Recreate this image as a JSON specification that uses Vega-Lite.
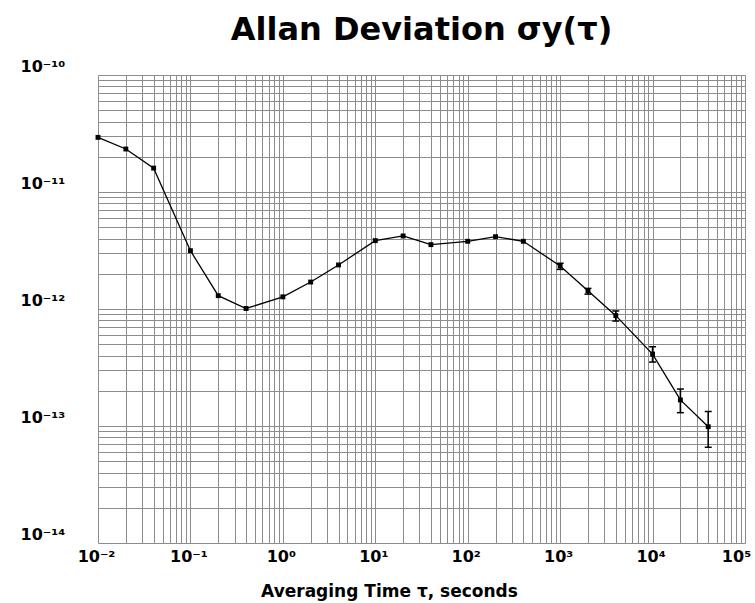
{
  "$schema": "https://vega.github.io/schema/vega-lite/v6.json",
  "width": 647,
  "height": 468,
  "autosize": {"type": "none"},
  "padding": {"left": 98, "top": 75, "right": 10, "bottom": 60},
  "background": "white",
  "title": {
    "text": "Allan Deviation σy(τ)",
    "font": "DejaVu Sans",
    "fontSize": 32,
    "fontWeight": "bold",
    "color": "black",
    "anchor": "middle",
    "offset": 11
  },
  "data": {
    "values": [
      {"tau": 0.01, "adev": 2.93e-11},
      {"tau": 0.02, "adev": 2.33e-11},
      {"tau": 0.04, "adev": 1.6e-11},
      {"tau": 0.1, "adev": 3.15e-12},
      {"tau": 0.2, "adev": 1.3e-12},
      {"tau": 0.4, "adev": 1.01e-12},
      {"tau": 1, "adev": 1.27e-12},
      {"tau": 2, "adev": 1.7e-12},
      {"tau": 4, "adev": 2.38e-12},
      {"tau": 10, "adev": 3.84e-12},
      {"tau": 20, "adev": 4.21e-12},
      {"tau": 40, "adev": 3.55e-12},
      {"tau": 100, "adev": 3.79e-12},
      {"tau": 200, "adev": 4.15e-12},
      {"tau": 400, "adev": 3.79e-12},
      {"tau": 1000, "adev": 2.33e-12, "lo": 2.18e-12, "hi": 2.46e-12},
      {"tau": 2000, "adev": 1.43e-12, "lo": 1.34e-12, "hi": 1.5e-12},
      {"tau": 4000, "adev": 8.77e-13, "lo": 7.89e-13, "hi": 9.62e-13},
      {"tau": 10000, "adev": 4.12e-13, "lo": 3.52e-13, "hi": 4.76e-13},
      {"tau": 20000, "adev": 1.67e-13, "lo": 1.3e-13, "hi": 2.07e-13},
      {"tau": 40000, "adev": 9.86e-14, "lo": 6.58e-14, "hi": 1.33e-13}
    ]
  },
  "encoding": {
    "x": {
      "field": "tau",
      "type": "quantitative",
      "scale": {"type": "log", "domain": [0.01, 100000], "nice": false},
      "axis": {
        "title": "Averaging Time τ, seconds",
        "titleX": 291,
        "titlePadding": 19,
        "values": [0.01,0.02,0.03,0.04,0.05,0.06,0.07,0.08,0.09,0.1,0.2,0.3,0.4,0.5,0.6,0.7,0.8,0.9,1,2,3,4,5,6,7,8,9,10,20,30,40,50,60,70,80,90,100,200,300,400,500,600,700,800,900,1000,2000,3000,4000,5000,6000,7000,8000,9000,10000,20000,30000,40000,50000,60000,70000,80000,90000,100000],
        "labelExpr": "datum.value==0.01?'10⁻²':datum.value==0.1?'10⁻¹':datum.value==1?'10⁰':datum.value==10?'10¹':datum.value==100?'10²':datum.value==1000?'10³':datum.value==10000?'10⁴':datum.value==100000?'10⁵':''",
        "labelPadding": 5,
        "labelOffset": {"condition": {"test": "datum.value == 100000", "value": -9}, "value": -2}
      }
    },
    "y": {
      "field": "adev",
      "type": "quantitative",
      "scale": {"type": "log", "domain": [1e-14, 1e-10], "nice": false},
      "axis": {
        "title": null,
        "values": [1e-14,2e-14,3e-14,4e-14,5e-14,6e-14,7e-14,8e-14,9e-14,1e-13,2e-13,3e-13,4e-13,5e-13,6e-13,7e-13,8e-13,9e-13,1e-12,2e-12,3e-12,4e-12,5e-12,6e-12,7e-12,8e-12,9e-12,1e-11,2e-11,3e-11,4e-11,5e-11,6e-11,7e-11,8e-11,9e-11,1e-10],
        "labelExpr": "datum.value==1e-10?'10⁻¹⁰':datum.value==1e-11?'10⁻¹¹':datum.value==1e-12?'10⁻¹²':datum.value==1e-13?'10⁻¹³':datum.value==1e-14?'10⁻¹⁴':''",
        "labelAlign": "left",
        "labelBaseline": "middle",
        "labelPadding": 78,
        "labelOffset": -9
      }
    }
  },
  "layer": [
    {"mark": {"type": "line", "color": "black", "strokeWidth": 1.3}},
    {"mark": {"type": "point", "shape": "square", "filled": true, "color": "black", "size": 24, "opacity": 1}},
    {
      "transform": [{"filter": "isValid(datum.lo)"}],
      "mark": {"type": "rule", "color": "black", "strokeWidth": 1.6},
      "encoding": {"y": {"field": "lo", "type": "quantitative"}, "y2": {"field": "hi"}}
    },
    {
      "transform": [{"filter": "isValid(datum.lo)"}],
      "mark": {"type": "tick", "orient": "horizontal", "color": "black", "size": 7, "thickness": 1.5, "opacity": 1},
      "encoding": {"y": {"field": "lo", "type": "quantitative"}}
    },
    {
      "transform": [{"filter": "isValid(datum.hi)"}],
      "mark": {"type": "tick", "orient": "horizontal", "color": "black", "size": 7, "thickness": 1.5, "opacity": 1},
      "encoding": {"y": {"field": "hi", "type": "quantitative"}}
    }
  ],
  "config": {
    "view": {"stroke": null},
    "axis": {
      "grid": true,
      "gridColor": "#8c8c8c",
      "gridWidth": 1,
      "gridOpacity": 1,
      "domain": false,
      "ticks": false,
      "tickSize": 0,
      "labelFont": "DejaVu Sans",
      "labelFontSize": 16,
      "labelFontWeight": "bold",
      "labelColor": "black",
      "labelOverlap": false,
      "labelBound": false,
      "labelFlush": false,
      "titleFont": "DejaVu Sans",
      "titleFontSize": 17,
      "titleFontWeight": "bold",
      "titleColor": "black"
    }
  }
}
